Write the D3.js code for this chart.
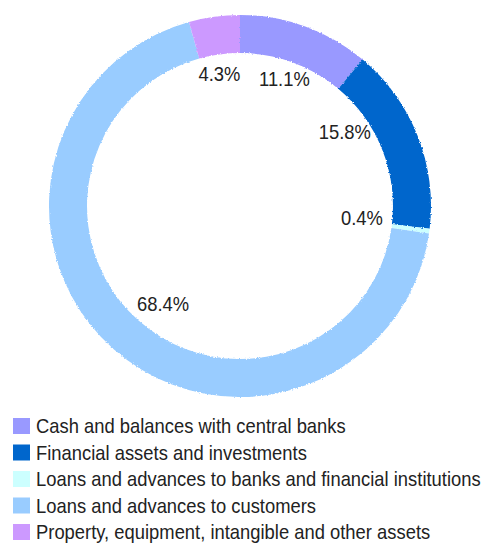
<!DOCTYPE html>
<html>
<head>
<meta charset="utf-8">
<script src="https://cdn.jsdelivr.net/npm/d3@7"></script>
<style>
  html, body { margin: 0; padding: 0; background: #ffffff; }
  svg { display: block; }
  text { font-family: "Liberation Sans Narrow", "Arial Narrow", "Liberation Sans", sans-serif; fill: #222222; }
</style>
</head>
<body>
<svg id="chart" width="484" height="545"></svg>
<script>
// Asset composition (share of total assets, %)
const categories = [
  "Cash and balances with central banks",
  "Financial assets and investments",
  "Loans and advances to banks and financial institutions",
  "Loans and advances to customers",
  "Property, equipment, intangible and other assets"
];
const shares = [11.1, 15.8, 0.4, 68.4, 4.3];
const colors = ["#9999ff", "#0066cc", "#ccffff", "#99ccff", "#cc99ff"];
// small per-label nudges away from the slice mid-angle position
const labelNudge = [[0, -5], [-16, -26], [-7, -5], [9, 0], [-3, -3]];

const width = 484, height = 545;
const cx = 240, cy = 206;
const outerR = 191, innerR = 153, labelR = 130;
const condense = 0.92; // horizontal squeeze to get a narrow face

const svg = d3.select("#chart");

// slightly ragged ring edge
const defs = svg.append("defs");
const filt = defs.append("filter").attr("id", "rough")
  .attr("x", "-5%").attr("y", "-5%").attr("width", "110%").attr("height", "110%");
filt.append("feTurbulence").attr("type", "fractalNoise").attr("baseFrequency", 0.8)
  .attr("numOctaves", 1).attr("seed", 3).attr("result", "noise");
filt.append("feDisplacementMap").attr("in", "SourceGraphic").attr("in2", "noise")
  .attr("scale", 3).attr("xChannelSelector", "R").attr("yChannelSelector", "G");

const data = categories.map((c, i) => ({ name: c, value: shares[i], color: colors[i], nudge: labelNudge[i] }));

const pie = d3.pie().value(d => d.value).sort(null);
const arcs = pie(data);
const arc = d3.arc().innerRadius(innerR).outerRadius(outerR);
const labelArc = d3.arc().innerRadius(labelR).outerRadius(labelR);

const g = svg.append("g").attr("transform", `translate(${cx},${cy})`);

g.append("g").attr("filter", "url(#rough)")
  .selectAll("path")
  .data(arcs)
  .join("path")
  .attr("d", arc)
  .attr("fill", d => d.data.color);

g.selectAll("text.pct")
  .data(arcs)
  .join("text")
  .attr("class", "pct")
  .attr("transform", d => {
    const [x, y] = labelArc.centroid(d);
    return `translate(${x + d.data.nudge[0]},${y + d.data.nudge[1]}) scale(${condense},1)`;
  })
  .attr("text-anchor", "middle")
  .attr("dy", "0.35em")
  .style("font-size", "20px")
  .text(d => d3.format(".1f")(d.data.value) + "%");

// legend
const rowY = d3.scalePoint().domain(categories).range([426, 532]);
const legend = svg.append("g");
const rows = legend.selectAll("g").data(data).join("g")
  .attr("transform", d => `translate(13,${rowY(d.name)})`);
rows.append("rect")
  .attr("x", 0).attr("y", -8).attr("width", 17).attr("height", 16)
  .attr("fill", d => d.color);
rows.append("text")
  .attr("transform", `translate(23,0) scale(${condense},1)`)
  .attr("dy", "0.35em")
  .style("font-size", "20px")
  .text(d => d.name);
</script>
</body>
</html>
